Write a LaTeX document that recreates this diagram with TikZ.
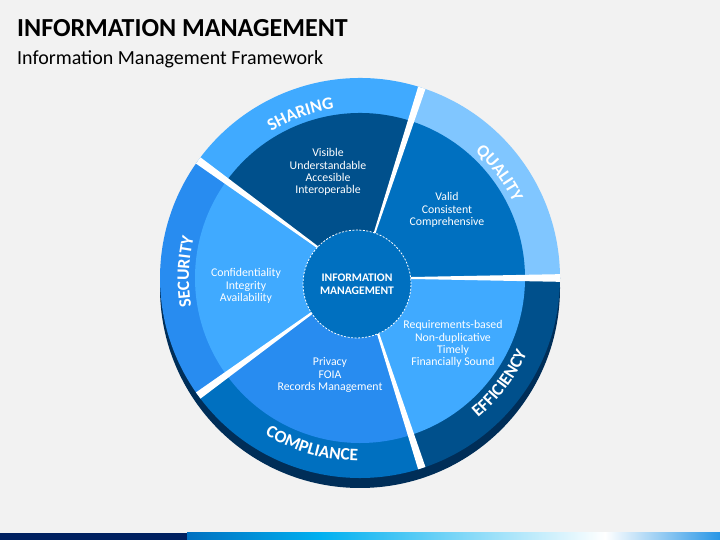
\documentclass[tikz,border=0pt]{standalone}
\usepackage{fontspec}
\setmainfont{Carlito}
\usetikzlibrary{positioning,decorations.text}

\definecolor{canvas}{RGB}{242,242,242}
\definecolor{navy}{RGB}{0,80,140}
\definecolor{deepnavy}{RGB}{0,46,88}
\definecolor{midblue}{RGB}{0,112,192}
\definecolor{brightblue}{RGB}{40,140,240}
\definecolor{skyblue}{RGB}{64,170,255}
\definecolor{paleblue}{RGB}{128,198,255}
\definecolor{barnavy}{RGB}{0,32,96}
\definecolor{barcyan}{RGB}{0,176,240}
\definecolor{barblue}{RGB}{40,150,230}
\newcommand{\ringfont}{\bfseries\fontsize{17.5}{17.5}\selectfont}

\begin{document}
\begin{tikzpicture}[x=1pt,y=1pt,node distance=13pt]
\tikzstyle{heading}=[font=\bfseries\fontsize{26}{30}\selectfont, inner sep=0]
\tikzstyle{subheading}=[font=\fontsize{20}{24}\selectfont, inner sep=0]
\tikzstyle{bullets}=[text=white, align=center, font=\fontsize{11.8}{12.2}\selectfont, inner sep=0]
\tikzstyle{hub}=[circle, fill=midblue, draw=white, line width=0.8pt, dash pattern=on 2pt off 1.5pt, minimum size=108pt, inner sep=0, text=white, align=center, font=\bfseries\fontsize{11.6}{12.5}\selectfont]
\tikzstyle{ring label}=[decorate, decoration={text along path, text align=center, text color=white}]

\fill[canvas] (0,0) rectangle (720,540);
\useasboundingbox (0,0) rectangle (720,540);

% title
\node[heading, anchor=base west] (title) at (17,503) {INFORMATION MANAGEMENT};
\node[subheading, below=of title.south west, anchor=north west] (subtitle) {Information Management Framework};

% bottom bar
\fill[barnavy] (0,0) rectangle (187,7);
\shade[left color=midblue, right color=barcyan] (187,0) rectangle (320,7);
\shade[left color=barcyan, right color=white] (320,0) rectangle (605,7);
\shade[left color=white, right color=barblue] (605,0) rectangle (720,7);

% wheel
\coordinate (C) at (360,262);
\fill[deepnavy] (360,252) circle[radius=200];
\foreach \a/\ring/\core in {0/paleblue/midblue, 72/skyblue/navy, 144/brightblue/skyblue, 216/midblue/brightblue, 288/navy/skyblue}{
  \pgfmathsetmacro\b{\a+72}
  \fill[\ring] (C) -- ([shift={(\a:200)}]C) arc[start angle=\a, end angle=\b, radius=200] -- cycle;
  \fill[\core] (C) -- ([shift={(\a:165)}]C) arc[start angle=\a, end angle=\b, radius=165] -- cycle;
}
\foreach \a in {0,72,...,288}
  \fill[white] (C) -- ([shift={(\a-1.1:200)}]C) -- ([shift={(\a+1.1:200)}]C) -- cycle;

% ring labels
\path[ring label, decoration={text={|\ringfont|SHARING}}] ([shift={(140:171)}]C) arc[start angle=140, end angle=80, radius=171];
\path[ring label, decoration={text={|\ringfont|QUALITY}}] ([shift={(67:171)}]C) arc[start angle=67, end angle=7, radius=171];
\path[ring label, decoration={text={|\ringfont|SECURITY}}] ([shift={(208:171)}]C) arc[start angle=208, end angle=148, radius=171];
\path[ring label, decoration={text={|\ringfont|COMPLIANCE}}] ([shift={(-136:183)}]C) arc[start angle=-136, end angle=-76, radius=183];
\path[ring label, decoration={text={|\ringfont|EFFICIENCY}}] ([shift={(-67:183)}]C) arc[start angle=-67, end angle=-7, radius=183];

% segment texts
\node[bullets] (share) at (328,368) {Visible\\Understandable\\Accesible\\Interoperable};
\node[bullets] (quality) at (447,330) {Valid\\Consistent\\Comprehensive};
\node[bullets] (security) at (246,254) {Confidentiality\\Integrity\\Availability};
\node[bullets] (compliance) at (330,165) {Privacy\\FOIA\\Records Management};
\node[bullets] (efficiency) at (453,196) {Requirements-based\\Non-duplicative\\Timely\\Financially Sound};

\node[hub] (centre) at (357,256) {INFORMATION\\MANAGEMENT};
\end{tikzpicture}
\end{document}
